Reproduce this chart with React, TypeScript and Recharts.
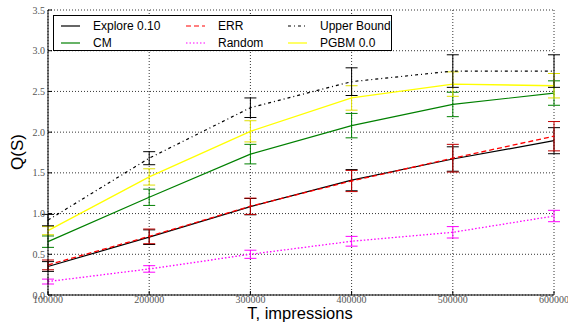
import React from 'react';
import { LineChart, Line, XAxis, YAxis, CartesianGrid, ErrorBar, Legend } from 'recharts';

const impressions = [100000, 200000, 300000, 400000, 500000, 600000];
const explore = [0.35, 0.71, 1.085, 1.41, 1.67, 1.895];
const exploreErr = [0.06, 0.09, 0.1, 0.13, 0.15, 0.16];
const cm = [0.655, 1.2, 1.73, 2.08, 2.34, 2.48];
const cmErr = [0.07, 0.1, 0.12, 0.15, 0.15, 0.15];
const err = [0.37, 0.72, 1.09, 1.4, 1.68, 1.95];
const errErr = [0.06, 0.09, 0.1, 0.13, 0.17, 0.18];
const random = [0.165, 0.32, 0.5, 0.66, 0.77, 0.97];
const randomErr = [0.03, 0.04, 0.05, 0.06, 0.07, 0.07];
const upper = [0.92, 1.68, 2.3, 2.62, 2.75, 2.75];
const upperErr = [0.07, 0.08, 0.12, 0.17, 0.2, 0.2];
const pgbm = [0.79, 1.45, 2.01, 2.42, 2.59, 2.57];
const pgbmErr = [0.05, 0.1, 0.13, 0.15, 0.15, 0.15];
const yTicks = [0, 0.5, 1.0, 1.5, 2.0, 2.5, 3.0, 3.5];

const data = impressions.map((t, i) => ({
  t,
  explore: explore[i], exploreErr: exploreErr[i],
  cm: cm[i], cmErr: cmErr[i],
  err: err[i], errErr: errErr[i],
  random: random[i], randomErr: randomErr[i],
  upper: upper[i], upperErr: upperErr[i],
  pgbm: pgbm[i], pgbmErr: pgbmErr[i],
}));

const legendItems = [
  { name: 'Explore 0.10', color: '#000000', dash: undefined as string | undefined, col: 0, row: 0 },
  { name: 'CM', color: '#008000', dash: undefined, col: 0, row: 1 },
  { name: 'ERR', color: '#ff0000', dash: '5 3', col: 1, row: 0 },
  { name: 'Random', color: '#ff00ff', dash: '1.5 2', col: 1, row: 1 },
  { name: 'Upper Bound', color: '#000000', dash: '3 3 1 3', col: 2, row: 0 },
  { name: 'PGBM 0.0', color: '#ffff00', dash: undefined, col: 2, row: 1 },
];

const colX = [0, 125, 227];

const LegendBox = () => (
  <div style={{ position: 'relative', width: 339, height: 36, border: '1px solid #000', background: '#fff', boxSizing: 'border-box', fontFamily: '"Liberation Sans", Arial, sans-serif', fontSize: 12 }}>
    {legendItems.map((it) => (
      <div key={it.name} style={{ position: 'absolute', left: colX[it.col] + 6, top: it.row * 17 + 1, height: 17, display: 'flex', alignItems: 'center', whiteSpace: 'nowrap' }}>
        <svg width={22} height={6} style={{ marginRight: 11 }}>
          <line x1={1} y1={3} x2={20} y2={3} stroke={it.color} strokeWidth={1.2} strokeDasharray={it.dash} />
        </svg>
        <span style={{ color: '#000' }}>{it.name}</span>
      </div>
    ))}
  </div>
);

const tickStyle = { fontFamily: '"Liberation Serif", "DejaVu Serif", serif', fontSize: 10, fill: '#555' };

export default function App() {
  return (
    <div style={{ position: 'absolute', left: 0, top: 0, background: '#fff' }}>
      <LineChart width={568} height={326} data={data} margin={{ top: 10, right: 14, bottom: 0, left: 0 }}>
        <CartesianGrid stroke="#000" strokeDasharray="1 2" strokeWidth={0.8} />
        <XAxis
          dataKey="t"
          type="number"
          domain={[100000, 600000]}
          ticks={impressions}
          height={31}
          stroke="#000"
          tick={tickStyle}
          tickSize={-4}
          tickMargin={5}
          interval={0}
          label={{
            content: () => (
              <text x={300} y={319} textAnchor="middle" style={{ fontFamily: '"Liberation Sans", Arial, sans-serif', fontSize: 16.5, fill: '#000' }}>T, impressions</text>
            ),
          }}
        />
        <XAxis xAxisId="top" orientation="top" dataKey="t" type="number" domain={[100000, 600000]} ticks={impressions} height={0} stroke="#000" tick={false} tickSize={-4} />
        <YAxis
          type="number"
          domain={[0, 3.5]}
          ticks={yTicks}
          width={48}
          stroke="#000"
          tick={tickStyle}
          tickFormatter={(v: number) => v.toFixed(1)}
          tickSize={-4}
          tickMargin={7}
          interval={0}
          label={{
            content: () => (
              <text x={23} y={152} textAnchor="middle" transform="rotate(-90 23 152)" style={{ fontFamily: '"Liberation Sans", Arial, sans-serif', fontSize: 17, fill: '#000' }}>Q(S)</text>
            ),
          }}
        />
        <YAxis yAxisId="right" orientation="right" type="number" domain={[0, 3.5]} ticks={yTicks} width={0} stroke="#000" tick={false} tickSize={-4} />
        <Line dataKey="random" stroke="#ff00ff" strokeWidth={1.3} strokeDasharray="1.5 2" dot={false} isAnimationActive={false}>
          <ErrorBar dataKey="randomErr" width={6} stroke="#ff00ff" strokeWidth={1} isAnimationActive={false} />
        </Line>
        <Line dataKey="explore" stroke="#000" strokeWidth={1.2} dot={false} isAnimationActive={false}>
          <ErrorBar dataKey="exploreErr" width={6} stroke="#000" strokeWidth={1} isAnimationActive={false} />
        </Line>
        <Line dataKey="err" stroke="#ff0000" strokeWidth={1.3} strokeDasharray="5 3" dot={false} isAnimationActive={false}>
          <ErrorBar dataKey="errErr" width={6} stroke="#c00000" strokeWidth={1} isAnimationActive={false} />
        </Line>
        <Line dataKey="cm" stroke="#008000" strokeWidth={1.2} dot={false} isAnimationActive={false}>
          <ErrorBar dataKey="cmErr" width={6} stroke="#008000" strokeWidth={1} isAnimationActive={false} />
        </Line>
        <Line dataKey="pgbm" stroke="#ffff00" strokeWidth={1.3} dot={false} isAnimationActive={false}>
          <ErrorBar dataKey="pgbmErr" width={6} stroke="#e0e000" strokeWidth={1} isAnimationActive={false} />
        </Line>
        <Line dataKey="upper" stroke="#000" strokeWidth={1.2} strokeDasharray="3 3 1 3" dot={false} isAnimationActive={false}>
          <ErrorBar dataKey="upperErr" width={6} stroke="#000" strokeWidth={1} isAnimationActive={false} />
        </Line>
        <Legend
          layout="horizontal"
          verticalAlign="middle"
          align="center"
          content={() => <LegendBox />}
          wrapperStyle={{ position: 'absolute', left: 53, top: 15, width: 339, height: 36 }}
        />
      </LineChart>
    </div>
  );
}
